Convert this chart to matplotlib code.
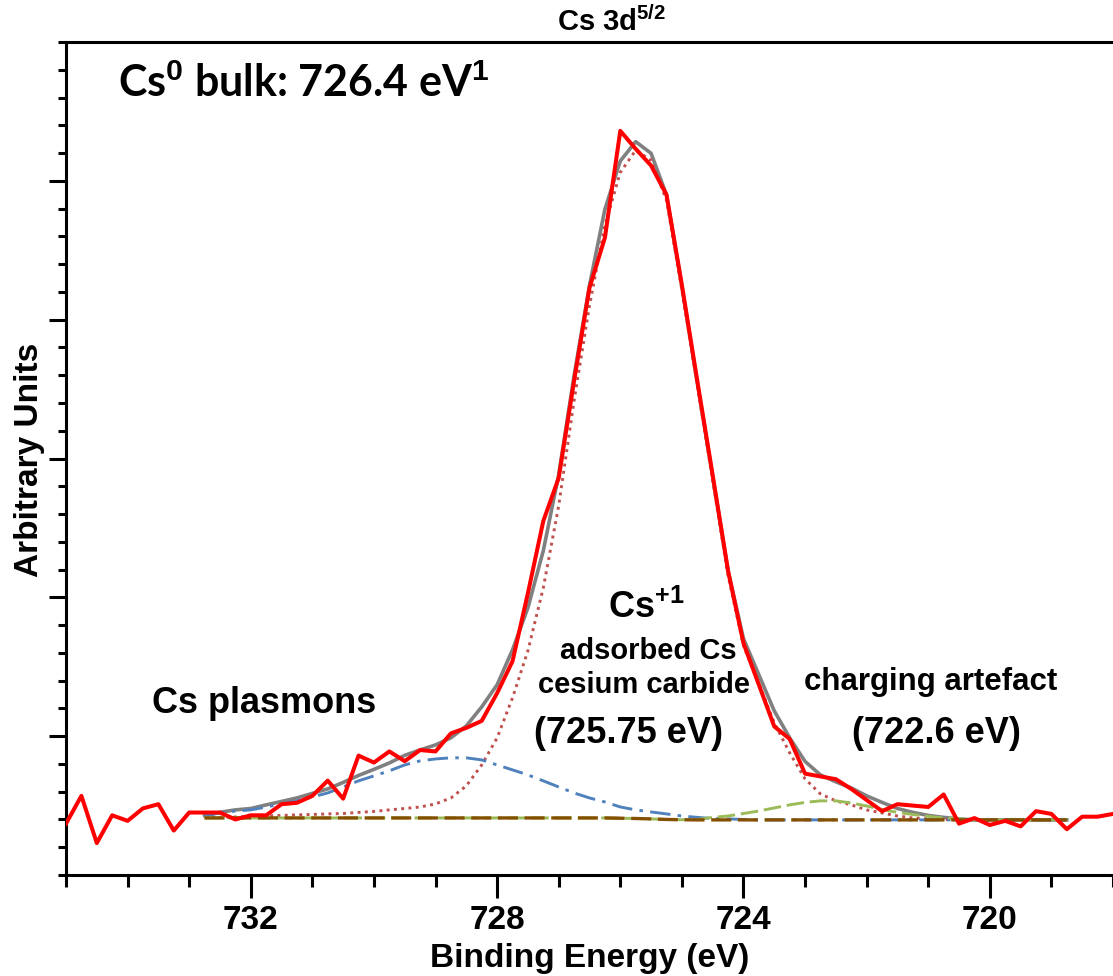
import matplotlib
matplotlib.use('Agg')
from matplotlib import pyplot as plt
from matplotlib.ticker import MultipleLocator, FixedLocator

plt.rcParams['font.family'] = ['Liberation Sans', 'DejaVu Sans']
plt.rcParams['font.weight'] = 'bold'
plt.rcParams['mathtext.fontset'] = 'custom'
plt.rcParams['mathtext.rm'] = 'Liberation Sans:bold'
plt.rcParams['mathtext.it'] = 'Liberation Sans:bold'
plt.rcParams['mathtext.bf'] = 'Liberation Sans:bold'
plt.rcParams['mathtext.default'] = 'rm'

# binding energy grid of the measurement (eV)
energy = [735.0, 734.75, 734.5, 734.25, 734.0, 733.75, 733.5, 733.25, 733.0, 732.75,
          732.5, 732.25, 732.0, 731.75, 731.5, 731.25, 731.0, 730.75, 730.5, 730.25,
          730.0, 729.75, 729.5, 729.25, 729.0, 728.75, 728.5, 728.25, 728.0, 727.75,
          727.5, 727.25, 727.0, 726.75, 726.5, 726.25, 726.0, 725.75, 725.5, 725.25,
          725.0, 724.75, 724.5, 724.25, 724.0, 723.75, 723.5, 723.25, 723.0, 722.75,
          722.5, 722.25, 722.0, 721.75, 721.5, 721.25, 721.0, 720.75, 720.5, 720.25,
          720.0, 719.75, 719.5, 719.25, 719.0, 718.75, 718.5, 718.25, 718.0]

# measured spectrum (arb. units)
measured = [0.37, 0.57, 0.23, 0.43, 0.39, 0.48, 0.51, 0.32, 0.45, 0.45,
            0.45, 0.40, 0.43, 0.43, 0.51, 0.52, 0.57, 0.68, 0.55, 0.86,
            0.81, 0.89, 0.82, 0.90, 0.89, 1.02, 1.06, 1.11, 1.31, 1.54,
            2.03, 2.55, 2.86, 3.56, 4.23, 4.59, 5.36, 5.23, 5.11, 4.90,
            4.25, 3.56, 2.88, 2.19, 1.67, 1.37, 1.07, 0.98, 0.73, 0.71,
            0.69, 0.62, 0.54, 0.46, 0.51, 0.50, 0.49, 0.58, 0.37, 0.41,
            0.36, 0.39, 0.35, 0.46, 0.44, 0.33, 0.42, 0.42, 0.44]

# fit region: 732.75 -> 718.75 eV
fit_energy = energy[9:66]

envelope = [0.429, 0.452, 0.469, 0.479, 0.505, 0.530, 0.555, 0.588, 0.620, 0.667,
            0.717, 0.761, 0.807, 0.862, 0.901, 0.937, 0.988, 1.074, 1.211, 1.370,
            1.622, 1.925, 2.336, 2.884, 3.598, 4.247, 4.795, 5.143, 5.282, 5.198,
            4.899, 4.239, 3.547, 2.870, 2.192, 1.702, 1.442, 1.182, 0.988, 0.818,
            0.721, 0.671, 0.627, 0.570, 0.523, 0.479, 0.451, 0.429, 0.415, 0.404] + [0.397] * 7

cs_plus = [0.415, 0.416, 0.418, 0.422, 0.425, 0.429, 0.433, 0.436, 0.440, 0.443,
           0.451, 0.458, 0.469, 0.479, 0.490, 0.512, 0.555, 0.642, 0.793, 0.988,
           1.276, 1.615, 2.069, 2.660, 3.417, 4.102, 4.679, 5.061, 5.220, 5.148,
           4.859, 4.211, 3.526, 2.841, 2.156, 1.651, 1.377, 1.096, 0.880, 0.692,
           0.584, 0.534, 0.505, 0.469, 0.447, 0.425, 0.411, 0.404, 0.400, 0.397] + [0.397] * 7

plasmon = [0.425, 0.447, 0.461, 0.469, 0.490, 0.512, 0.534, 0.562, 0.591, 0.634,
           0.678, 0.714, 0.750, 0.793, 0.822, 0.836, 0.844, 0.844, 0.829, 0.793,
           0.757, 0.721, 0.678, 0.634, 0.591, 0.555, 0.526, 0.490, 0.469, 0.454,
           0.440, 0.425, 0.415, 0.407, 0.404, 0.400, 0.397, 0.397, 0.397, 0.397] + [0.397] * 17

charging = [0.411] * 27 + [0.409, 0.407, 0.404, 0.400, 0.398,
                           0.400, 0.415, 0.425, 0.443, 0.461, 0.483, 0.505, 0.523,
                           0.534, 0.534, 0.519, 0.497, 0.472, 0.451, 0.436, 0.422, 0.411, 0.404] + [0.397] * 7

background = [0.411] * 27 + [0.409, 0.407, 0.404, 0.400, 0.398] + [0.397] * 25

W, H = 1113, 976
fig = plt.figure(figsize=(W / 100, H / 100), dpi=100)
ax = fig.add_axes([66 / W, 1 - 875 / H, 1 - 66 / W, (875 - 42) / H])

ax.plot(fit_energy, envelope, color='#808080', lw=2.6, zorder=2)
ax.plot(fit_energy, cs_plus, color='#C0504D', lw=2.1, linestyle=(0, (1, 1.5)), zorder=3)
ax.plot(fit_energy, plasmon, color='#4F81BD', lw=2.1, linestyle=(0, (7, 2.5, 1.2, 2.5)), zorder=3)
ax.plot(fit_energy, charging, color='#9BBB59', lw=2.1, linestyle=(0, (6, 2)), zorder=3)
ax.plot(fit_energy, background, color='#845000', lw=2.4, linestyle=(0, (6, 2)), zorder=4)
ax.plot(energy, measured, color='#FF0000', lw=2.9, zorder=5)

ax.set_xlim(735, 718)
ax.set_ylim(0, 6)
ax.xaxis.set_major_locator(FixedLocator([732, 728, 724, 720]))
ax.xaxis.set_minor_locator(MultipleLocator(1))
ax.yaxis.set_major_locator(FixedLocator([1, 2, 3, 4, 5]))
ax.yaxis.set_minor_locator(MultipleLocator(0.2))

for s in ['left', 'bottom', 'top']:
    ax.spines[s].set_linewidth(2.2)
ax.spines['right'].set_visible(False)

ax.tick_params(axis='x', which='major', direction='out', length=16.5, width=2.2,
               labelsize=24, pad=5)
ax.tick_params(axis='x', which='minor', direction='out', length=8.5, width=2.2)
ax.tick_params(axis='y', which='major', direction='out', length=12, width=2.2,
               labelleft=False)
ax.tick_params(axis='y', which='minor', direction='out', length=6, width=2.2)


def fx(px):
    return px / W


def fy(py):
    return 1 - py / H


fig.text(fx(590), fy(967), 'Binding Energy (eV)', fontsize=24, ha='center', va='baseline')
fig.text(fx(38), fy(460), 'Arbitrary Units', fontsize=24, rotation=90,
         rotation_mode='anchor', ha='center', va='baseline')
fig.text(fx(612), fy(31), 'Cs 3d$^{5/2}$', fontsize=21, ha='center', va='baseline',
         family=['Liberation Sans Narrow', 'Liberation Sans'])

fig.text(fx(118), fy(97), 'Cs$^{0}$ bulk: 726.4 eV$^{1}$', fontsize=31, ha='left',
         va='baseline', family=['Lato', 'Liberation Sans'])
fig.text(fx(152), fy(713), 'Cs plasmons', fontsize=26, ha='left', va='baseline')
fig.text(fx(646), fy(618), 'Cs$^{+1}$', fontsize=26, ha='center', va='baseline')
fig.text(fx(648), fy(659), 'adsorbed Cs', fontsize=21, ha='center', va='baseline')
fig.text(fx(644), fy(693), 'cesium carbide', fontsize=21, ha='center', va='baseline')
fig.text(fx(629), fy(743), '(725.75 eV)', fontsize=26, ha='center', va='baseline')
fig.text(fx(931), fy(690), 'charging artefact', fontsize=22.5, ha='center', va='baseline')
fig.text(fx(936), fy(743), '(722.6 eV)', fontsize=26, ha='center', va='baseline')

fig.savefig('out.png', dpi=100)
